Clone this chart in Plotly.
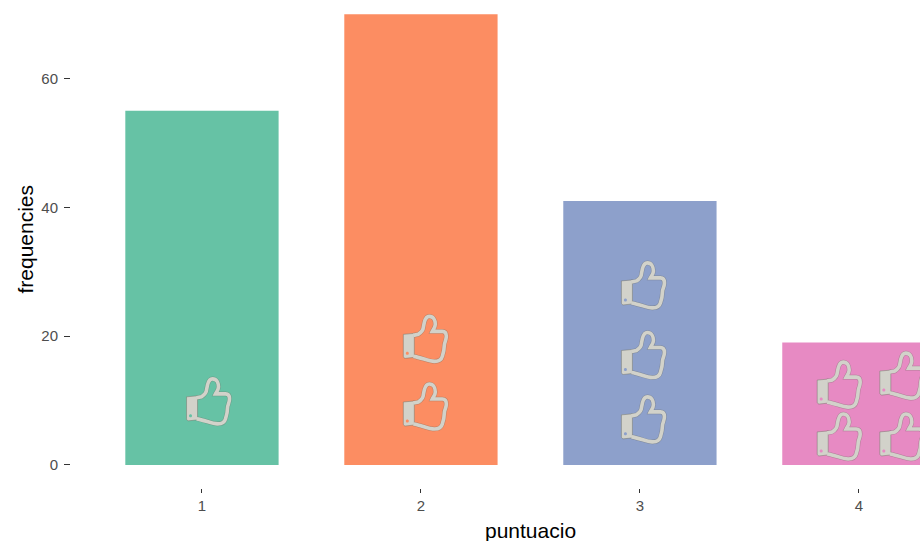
import plotly.graph_objects as go

puntuacio = [1, 2, 3, 4]
frequencies = [55, 70, 41, 19]
bar_colors = ["#66c2a5", "#fc8d62", "#8da0cb", "#e78ac3"]
icon_x = [1.03, 2.02, 2.02, 3.016, 3.016, 3.016, 3.91, 4.196, 3.91, 4.196]
icon_y = [9.8, 9.0, 19.5, 7.0, 17.0, 27.8, 12.4, 13.8, 4.35, 4.35]
icon_group = [0, 1, 1, 2, 2, 2, 3, 3, 3, 3]
icon_color = "#d2d2ca"
icon_edge = "rgba(110,110,100,0.45)"
y_ticks = [0, 20, 40, 60]

OUTLINE = ("M -12 4 L -7 5 C -4 7 -2 10 -2 12 L -1 17 C 0 21 2 23 4 23 C 8 23 10 19 10 15 "
           "C 10 12 8 10 7 8 L 17 8 C 20 8 21 6 21 3 C 21 -1 19 -3 19 -6 C 19 -10 18 -14 17 -17 "
           "C 16 -21 13 -22 9 -22 C 3 -22 -4 -18 -12 -17")
CUFF = "M -22 5 L -11 6 L -11 -18 L -20 -19 C -21 -19 -22 -18 -22 -17 Z"
DOT = "M -19.5 -14 C -19.5 -16 -16.5 -16 -16.5 -14 C -16.5 -12 -19.5 -12 -19.5 -14 Z"

fig = go.Figure()
fig.add_trace(go.Bar(x=puntuacio, y=frequencies, width=0.7,
                     marker=dict(color=bar_colors, line_width=0),
                     showlegend=False, hovertemplate="%{x}: %{y}<extra></extra>"))

shapes = []
for ix, iy, g in zip(icon_x, icon_y, icon_group):
    common = dict(type="path", xref="x", yref="y", xsizemode="pixel", ysizemode="pixel",
                  xanchor=ix, yanchor=iy, layer="above")
    shapes.append(dict(common, path=OUTLINE, fillcolor="rgba(0,0,0,0)",
                       line=dict(color=icon_edge, width=4.6)))
    shapes.append(dict(common, path=CUFF, fillcolor=icon_color,
                       line=dict(color=icon_edge, width=1)))
    shapes.append(dict(common, path=OUTLINE, fillcolor="rgba(0,0,0,0)",
                       line=dict(color=icon_color, width=3.6)))
    shapes.append(dict(common, path=DOT, fillcolor=bar_colors[g], line=dict(width=0)))

fig.update_layout(
    width=920, height=541,
    margin=dict(l=71, r=0, t=0, b=53),
    paper_bgcolor="white", plot_bgcolor="white",
    font=dict(family="Liberation Sans, Arial, sans-serif", size=15, color="#4d4d4d"),
    shapes=shapes,
    bargap=0.3,
    xaxis=dict(range=[0.402, 4.279], tickmode="array", tickvals=puntuacio,
               ticks="outside", ticklen=4, tickwidth=1, tickcolor="#333333",
               showgrid=False, zeroline=False, showline=False),
    yaxis=dict(range=[-3.58, 72.2], tickmode="array", tickvals=y_ticks,
               ticks="outside", ticklen=6, tickwidth=1, tickcolor="#333333",
               ticklabelstandoff=3,
               showgrid=False, zeroline=False, showline=False),
    annotations=[
        dict(text="puntuacio", xref="x", yref="paper", x=2.5, y=0, yshift=-42,
             yanchor="middle", showarrow=False, font=dict(size=21, color="black")),
        dict(text="frequencies", xref="paper", yref="y", x=0, xshift=-45, y=35,
             textangle=-90, xanchor="center", showarrow=False, font=dict(size=21, color="black")),
    ],
)
fig.write_html("out.html", config={"displayModeBar": False},
               post_script="document.body.style.margin='0';document.documentElement.style.overflow='hidden';")
